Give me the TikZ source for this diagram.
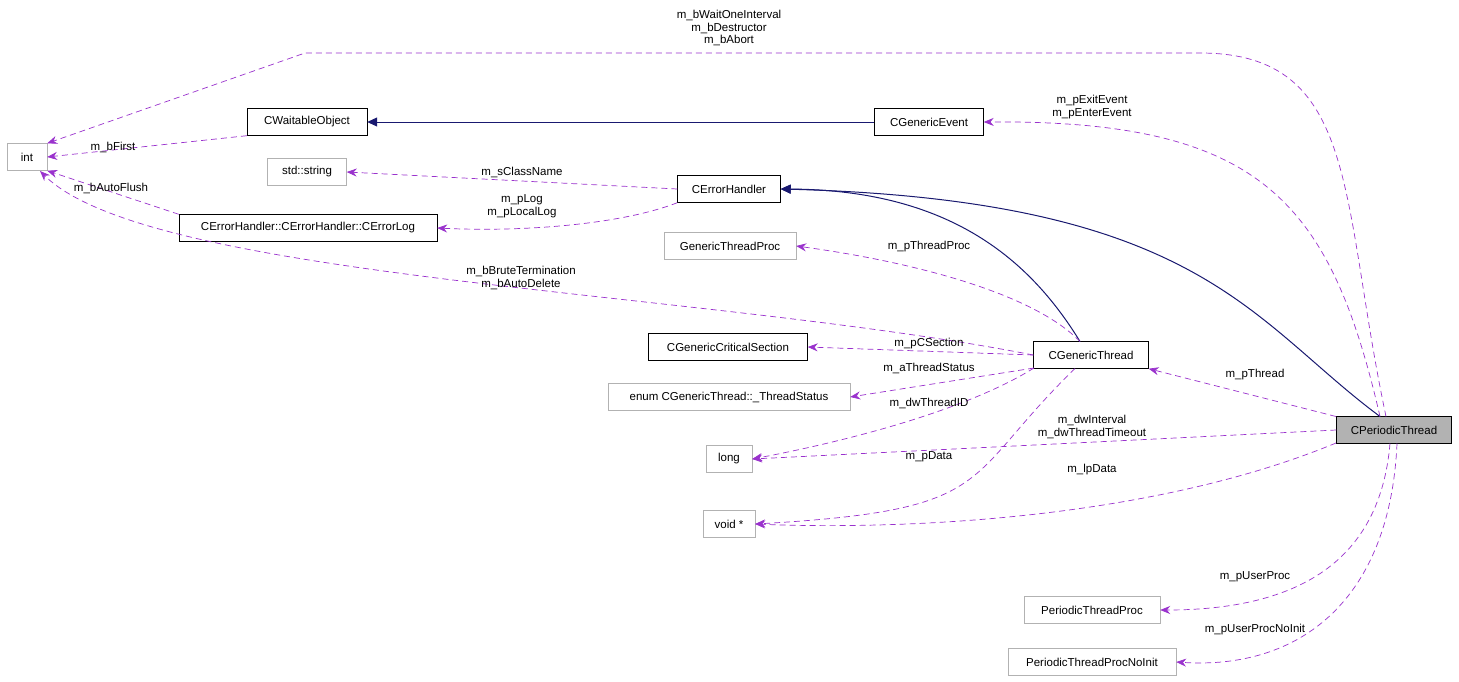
\documentclass[tikz,border=0pt]{standalone}
\usepackage{fontspec}
\setmainfont{Liberation Sans}
\usetikzlibrary{arrows.meta}
\definecolor{dep}{HTML}{9A32CD}
\definecolor{inh}{HTML}{191970}
\begin{document}
\begin{tikzpicture}[x=1pt,y=-1pt,
  box/.style={draw=black,fill=white,inner sep=0pt,minimum height=27pt,font=\fontsize{11.5}{13}\selectfont},
  gbox/.style={box,draw=gray!60},
  dep/.style={draw=dep,dashed,dash pattern=on 6pt off 4pt,-{Stealth[length=10pt,width=8pt]},line width=0.7pt},
  inh/.style={draw=inh,line width=1pt,-{Triangle[length=10pt,width=9pt,fill=inh]}},
  lab/.style={font=\fontsize{11.5}{12.5}\selectfont,align=center,inner sep=0pt}]
\useasboundingbox[fill=white] (0,0) rectangle (1459,681);
\node[gbox,minimum width=40pt] (int) at (27,157) {int};
\node[box,minimum width=120pt] (cwo) at (307,122) {CWaitableObject};
\node[box,minimum width=109pt] (cge) at (929,122) {CGenericEvent};
\node[gbox,minimum width=79pt] (str) at (307,172) {std::string};
\node[box,minimum width=103pt] (ceh) at (729,189) {CErrorHandler};
\node[box,minimum width=258pt] (log) at (308,228) {CErrorHandler::CErrorHandler::CErrorLog};
\node[gbox,minimum width=132pt] (gtp) at (730,246) {GenericThreadProc};
\node[box,minimum width=159pt] (ccs) at (728,347) {CGenericCriticalSection};
\node[box,minimum width=115pt] (cgt) at (1091,355) {CGenericThread};
\node[gbox,minimum width=242pt] (ets) at (729,397) {enum CGenericThread::\_ThreadStatus};
\node[gbox,minimum width=46pt] (long) at (729,459) {long};
\node[gbox,minimum width=52pt] (void) at (729,524) {void *};
\node[box,fill=gray!60,minimum width=115pt] (cpt) at (1394,430) {CPeriodicThread};
\node[gbox,minimum width=136pt] (ptp) at (1092,610) {PeriodicThreadProc};
\node[gbox,minimum width=168pt] (ptn) at (1092,662) {PeriodicThreadProcNoInit};

\draw[inh] (cge) -- (cwo);
\draw[inh] (1080,341.5) .. controls (1030,260) and (950,190) .. (ceh.east);
\draw[inh] (1380,416.5) .. controls (1250,320) and (1200,200) .. (ceh.east);

\draw[dep] (cwo.south west) -- (int.east);
\node[lab] (l1) at (113,147) {m\_bFirst};
\draw[dep] (ceh.west) -- (str.east);
\node[lab] (l2) at (522,172) {m\_sClassName};
\draw[dep] (ceh.south west) .. controls (620,225) and (520,232) .. (log.east);
\node[lab] (l3) at (522,206) {m\_pLog\\m\_pLocalLog};
\draw[dep] (log.north west) -- (int.south east);
\node[lab] (l4) at (111,188) {m\_bAutoFlush};
\draw[dep] (cgt.west) .. controls (700,290) and (150,280) .. (40,171);
\node[lab] (l5) at (521,278) {m\_bBruteTermination\\m\_bAutoDelete};
\draw[dep] (1080,341.5) .. controls (1030,290) and (900,260) .. (gtp.east);
\node[lab] (l6) at (929,247) {m\_pThreadProc};
\draw[dep] (cgt.west) -- (ccs.east);
\node[lab] (l7) at (929,344) {m\_pCSection};
\draw[dep] (1034,368) -- (ets.east);
\node[lab] (l8) at (929,368) {m\_aThreadStatus};
\draw[dep] (1034,368) .. controls (950,420) and (800,450) .. (long.east);
\node[lab] (l9) at (929,403) {m\_dwThreadID};
\draw[dep] (1075,368.5) .. controls (960,480) and (1000,510) .. (void.east);
\node[lab] (l10) at (929,457) {m\_pData};
\draw[dep] (1386,416.5) .. controls (1340,200) and (1360,53) .. (1200,53) -- (305,53) -- (int.north east);
\node[lab] (l11) at (729,28) {m\_bWaitOneInterval\\m\_bDestructor\\m\_bAbort};
\draw[dep] (1380,416.5) .. controls (1330,200) and (1260,120) .. (cge.east);
\node[lab] (l12) at (1092,107) {m\_pExitEvent\\m\_pEnterEvent};
\draw[dep] (1336,416.5) -- (cgt.south east);
\node[lab] (l13) at (1255,375) {m\_pThread};
\draw[dep] (cpt.west) -- (long.east);
\node[lab] (l14) at (1092,427) {m\_dwInterval\\m\_dwThreadTimeout};
\draw[dep] (1336,443) .. controls (1150,520) and (900,530) .. (void.east);
\node[lab] (l15) at (1092,470) {m\_lpData};
\draw[dep] (1390,443.5) .. controls (1380,560) and (1300,610) .. (ptp.east);
\node[lab] (l16) at (1255,577) {m\_pUserProc};
\draw[dep] (1397,443.5) .. controls (1390,600) and (1300,670) .. (ptn.east);
\node[lab] (l17) at (1255,630) {m\_pUserProcNoInit};
\end{tikzpicture}
\end{document}
